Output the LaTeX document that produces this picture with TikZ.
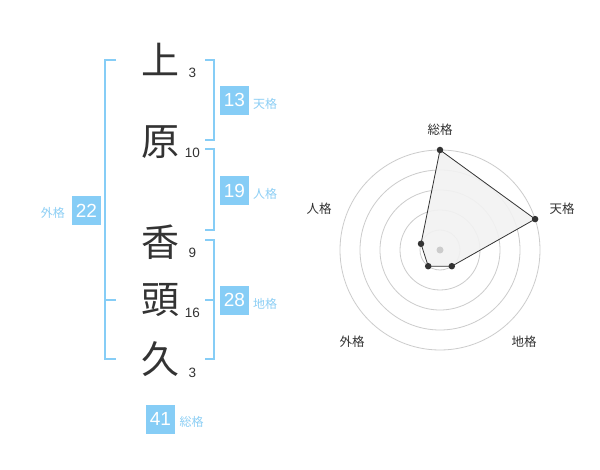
\documentclass[tikz,border=0pt]{standalone}
\usepackage{fontspec}
\setmainfont{Liberation Sans}
\newfontfamily\jp{Noto Sans CJK JP}
\definecolor{kblue}{HTML}{86CDF6}
\definecolor{klab}{HTML}{8DCFF5}
\definecolor{kdark}{HTML}{333333}
\begin{document}
\begin{tikzpicture}[x=1pt,y=-1pt,
  kanji/.style={font=\jp\fontsize{38}{38}\selectfont,text=kdark,inner sep=0},
  strokes/.style={font=\fontsize{13.5}{13.5}\selectfont,text=kdark,inner sep=0},
  kbox/.style={fill=kblue,text=white,minimum width=29pt,minimum height=29pt,inner sep=0,font=\fontsize{19}{19}\selectfont},
  klabel/.style={font=\jp\fontsize{12}{12}\selectfont,text=klab,inner sep=0},
  brk/.style={draw=kblue,line width=2pt},
  ring/.style={draw=black!20,line width=0.8pt},
  rlabel/.style={font=\jp\fontsize{12.5}{12.5}\selectfont,text=kdark,inner sep=0},
  dot/.style={circle,fill=kdark,inner sep=0,minimum size=6.5pt}
]
\useasboundingbox (0,0) rectangle (600,470);
\fill[white] (0,0) rectangle (600,470);
% characters
\node[kanji] (c1) at (160,59) {上};
\node[kanji] (c2) at (160,142) {原};
\node[kanji] (c3) at (160,242) {香};
\node[kanji] (c4) at (160,300) {頭};
\node[kanji] (c5) at (160,359) {久};
\node[strokes] (s1) at (192.5,72.5) {3};
\node[strokes] (s2) at (192.5,153) {10};
\node[strokes] (s3) at (192.5,252.5) {9};
\node[strokes] (s4) at (192.5,312.5) {16};
\node[strokes] (s5) at (192.5,373) {3};
% brackets
\draw[brk] (116,60) -- (105,60) -- (105,359) -- (116,359);
\draw[brk] (105,300) -- (116,300);
\draw[brk] (205,60) -- (214,60) -- (214,140) -- (205,140);
\draw[brk] (205,149) -- (214,149) -- (214,230) -- (205,230);
\draw[brk] (205,240) -- (214,240) -- (214,359) -- (205,359);
\draw[brk] (205,300) -- (214,300);
% boxes
\node[kbox] (ten) at (234.5,100.3) {13};
\node[klabel,anchor=west] (tenl) at (253,103.5) {天格};
\node[kbox] (jin) at (234.5,190.5) {19};
\node[klabel,anchor=west] (jinl) at (253,193.5) {人格};
\node[kbox] (chi) at (234.5,300.3) {28};
\node[klabel,anchor=west] (chil) at (253,303.5) {地格};
\node[kbox] (gai) at (86.5,210.5) {22};
\node[klabel,anchor=east] (gail) at (65,213) {外格};
\node[kbox] (sou) at (160.5,419) {41};
\node[klabel,anchor=west] (soul) at (179.5,422) {総格};
% radar
\coordinate (O) at (440,250);
\foreach \r in {20,40,60,80,100} \draw[ring] (O) circle[radius=\r];
\coordinate (pS) at (440,150);
\coordinate (pT) at (535.1,219.1);
\coordinate (pC) at (451.8,266.2);
\coordinate (pG) at (428.2,266.2);
\coordinate (pJ) at (421.0,243.8);
\fill[black!5,fill opacity=0.9] (pS) -- (pT) -- (pC) -- (pG) -- (pJ) -- cycle;
\draw[kdark,line width=0.8pt] (pS) -- (pT) -- (pC) -- (pG) -- (pJ) -- cycle;
\fill[black!20] (O) circle[radius=3.5];
\foreach \p in {pS,pT,pC,pG,pJ} \node[dot] at (\p) {};
\node[rlabel] (lS) at (440,130) {総格};
\node[rlabel] (lT) at (562,209) {天格};
\node[rlabel] (lJ) at (319,209) {人格};
\node[rlabel] (lG) at (352,342) {外格};
\node[rlabel] (lC) at (524,342) {地格};
\end{tikzpicture}
\end{document}
